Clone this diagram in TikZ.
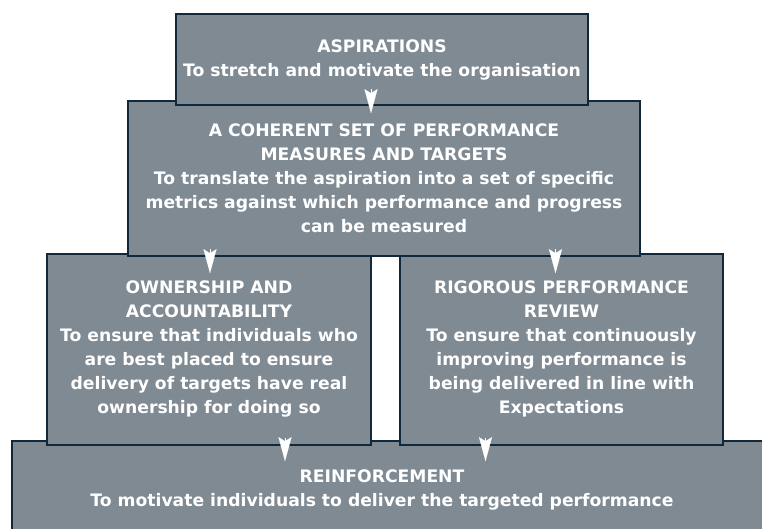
\documentclass[tikz,border=0pt]{standalone}
\usepackage{fontspec}
\setmainfont{DejaVu Sans}
\usetikzlibrary{arrows.meta,positioning}

\definecolor{blockfill}{HTML}{7F8A93}
\definecolor{blockline}{HTML}{10283A}

\begin{document}
\begin{tikzpicture}[
    x=1pt, y=1pt,
    block/.style={rectangle, draw=blockline, fill=blockfill, line width=2.4pt, inner sep=0pt},
    blocktext/.style={text=white, font=\bfseries\fontsize{17.2}{24}\selectfont, align=center, inner sep=0pt},
    pointer/.style={white, line width=0.1pt, -{Stealth[length=24pt, width=13pt, inset=4pt]}},
]
\useasboundingbox (0,0) rectangle (762,-529);
\clip (0,0) rectangle (762,-529);

\node[block, minimum width=788, minimum height=139] (reinforce) at (406,-510.5) {};
\node[blocktext, anchor=north] (reinforcetxt) at (382,-470) {REINFORCEMENT\\To motivate individuals to deliver the targeted performance};

\node[block, minimum width=324, minimum height=191] (owner) at (209,-349.5) {};
\node[blocktext, below=28pt of owner.north] (ownertxt) {OWNERSHIP AND\\ACCOUNTABILITY\\To ensure that individuals who\\are best placed to ensure\\delivery of targets have real\\ownership for doing so};

\node[block, minimum width=323, minimum height=191] (review) at (561.5,-349.5) {};
\node[blocktext, below=28pt of review.north] (reviewtxt) {RIGOROUS PERFORMANCE\\REVIEW\\To ensure that continuously\\improving performance is\\being delivered in line with\\Expectations};

\node[block, minimum width=512, minimum height=155] (measures) at (384,-178.5) {};
\node[blocktext, below=24pt of measures.north] (measurestxt) {A COHERENT SET OF PERFORMANCE\\MEASURES AND TARGETS\\To translate the aspiration into a set of specific\\metrics against which performance and progress\\can be measured};

\node[block, minimum width=412, minimum height=91] (aspire) at (382,-59.5) {};
\node[blocktext, below=27pt of aspire.north] (aspiretxt) {ASPIRATIONS\\To stretch and motivate the organisation};

\draw[pointer] (aspire.south) ++(-11,17) -- ++(0,-24);
\draw[pointer] (measures.south -| owner.north) ++(1,8) -- ++(0,-24);
\draw[pointer] (measures.south -| review.north) ++(-6,8) -- ++(0,-24);
\draw[pointer] (owner.south) ++(76,8) -- ++(0,-23);
\draw[pointer] (review.south) ++(-76,8) -- ++(0,-23);
\end{tikzpicture}
\end{document}
